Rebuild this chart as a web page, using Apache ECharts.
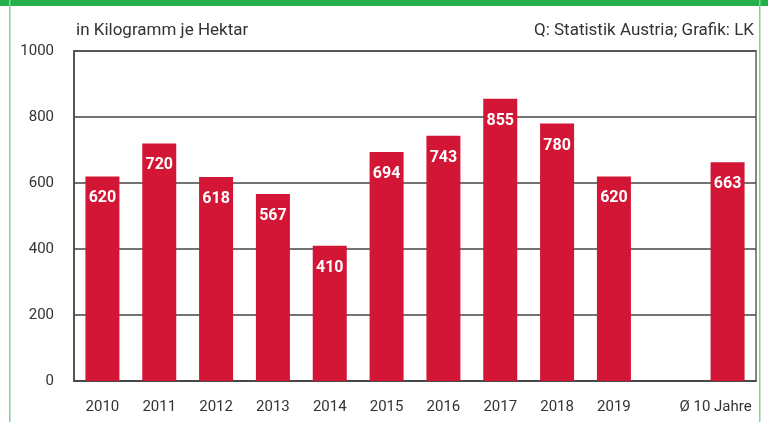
<!DOCTYPE html>
<html>
<head>
<meta charset="utf-8">
<script src="https://cdn.jsdelivr.net/npm/echarts@6/dist/echarts.min.js"></script>
<style>
  html, body { margin: 0; padding: 0; background: #fff; }
  #chart { width: 768px; height: 422px; }
</style>
</head>
<body>
<div id="chart"></div>
<script>
// Jahre + Lücke + Durchschnitt
var categories = ['2010', '2011', '2012', '2013', '2014', '2015', '2016', '2017', '2018', '2019', '', 'Ø 10 Jahre'];
var values = [620, 720, 618, 567, 410, 694, 743, 855, 780, 620, null, 663];
var yTicks = [0, 200, 400, 600, 800, 1000];

var font = 'Roboto, "Noto Sans", sans-serif';

var myChart = echarts.init(document.getElementById('chart'));

// letzte Beschriftung etwas nach links
var xData = categories.map(function (c, i) {
    if (i === categories.length - 1) {
        return { value: c, textStyle: { padding: [0, 24, 0, 0] } };
    }
    return c;
});

var option = {
    animation: false,
    grid: {
        left: 74,
        right: 12,
        top: 51,
        bottom: 41,
        show: true,
        borderColor: '#888',
        borderWidth: 2
    },
    graphic: [
        // grüner Balken oben und Rahmen
        { type: 'rect', left: 0, top: 0, shape: { width: 768, height: 6 }, style: { fill: '#23b04b' } },
        { type: 'rect', left: 9, top: 0, shape: { width: 1.5, height: 422 }, style: { fill: '#7fd48f' } },
        { type: 'rect', left: 759, top: 0, shape: { width: 1.5, height: 422 }, style: { fill: '#7fd48f' } },
        { type: 'text', left: 76, top: 22, style: { text: 'in Kilogramm je Hektar', font: '17px ' + font, fill: '#333' } },
        { type: 'text', right: 14, top: 22, style: { text: 'Q: Statistik Austria; Grafik: LK', font: '17px ' + font, fill: '#333' } }
    ],
    xAxis: {
        type: 'category',
        data: xData,
        axisLine: { lineStyle: { color: '#444', width: 1.5 } },
        axisTick: { show: false },
        axisLabel: { color: '#333', fontSize: 15, fontFamily: font, margin: 19, interval: 0 }
    },
    yAxis: {
        type: 'value',
        min: yTicks[0],
        max: yTicks[yTicks.length - 1],
        interval: 200,
        axisLine: { show: true, lineStyle: { color: '#444', width: 1.5 } },
        axisTick: { show: false },
        axisLabel: {
            color: '#333', fontSize: 15, fontFamily: font, margin: 20,
            formatter: function (v) { return String(v); }
        },
        splitLine: { lineStyle: { color: '#444', width: 1.5 } }
    },
    series: [
        {
            type: 'bar',
            data: values,
            barWidth: 34,
            itemStyle: { color: '#d31536' },
            label: {
                show: true,
                position: 'insideTop',
                distance: 14,
                color: '#fff',
                fontSize: 16,
                fontWeight: 'bold',
                fontFamily: font
            }
        }
    ]
};

myChart.setOption(option);
</script>
</body>
</html>
